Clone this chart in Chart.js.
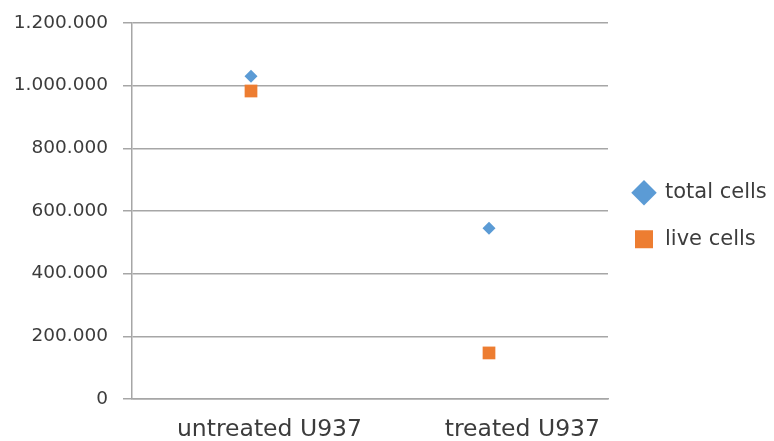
<!DOCTYPE html>
<html>
<head>
<meta charset="utf-8">
<script src="https://cdn.jsdelivr.net/npm/chart.js@4"></script>
<style>
  html, body { margin: 0; padding: 0; background: #ffffff; }
  #wrap { width: 774px; height: 441px; }
</style>
</head>
<body>
<div id="wrap"><canvas id="c" width="774" height="441"></canvas></div>
<script>
const categories = ['untreated U937', 'treated U937'];
const seriesNames = ['total cells', 'live cells'];
const totalCells = [1030000, 545000];
const liveCells = [983000, 147000];
const yMin = 0, yMax = 1200000, yStep = 200000;

function fmt(v) {
  return String(Math.round(v)).replace(/\B(?=(\d{3})+(?!\d))/g, '.');
}

const FONT = '"DejaVu Sans", Verdana, sans-serif';
const GRID = '#a6a6a6';
const TEXT = '#3c3c3c';

new Chart(document.getElementById('c'), {
  type: 'line',
  data: {
    labels: categories,
    datasets: [
      {
        label: seriesNames[0],
        data: totalCells,
        showLine: false,
        pointStyle: 'rectRot',
        pointRadius: 6.5,
        pointHoverRadius: 6.5,
        backgroundColor: '#5B9BD5',
        borderColor: '#5B9BD5',
        borderWidth: 0
      },
      {
        label: seriesNames[1],
        data: liveCells,
        showLine: false,
        pointStyle: 'rect',
        pointRadius: 9,
        pointHoverRadius: 9,
        backgroundColor: '#ED7D31',
        borderColor: '#ED7D31',
        borderWidth: 0
      }
    ]
  },
  options: {
    responsive: false,
    animation: false,
    layout: { padding: { left: 0, top: 23, right: 0, bottom: 0 } },
    plugins: {
      tooltip: { enabled: false },
      legend: {
        position: 'right',
        align: 'center',
        fullSize: false,
        maxWidth: 166,
        title: { display: true, text: '', font: { size: 1, lineHeight: 1 }, padding: 4.5 },
        labels: {
          usePointStyle: true,
          boxHeight: 18,
          padding: 25.5,
          color: TEXT,
          font: { family: FONT, size: 21, lineHeight: 0.93 }
        }
      }
    },
    scales: {
      x: {
        offset: true,
        afterFit: (s) => { s.height = 42; },
        grid: { display: false, drawTicks: false },
        border: { display: true, color: GRID, width: 1.5 },
        ticks: {
          color: TEXT,
          font: { family: FONT, size: 23.5 },
          padding: 17,
          align: 'end',
          labelOffset: 111,
          maxRotation: 0
        }
      },
      y: {
        min: yMin,
        max: yMax,
        afterFit: (s) => { s.width = 132; },
        grid: { color: GRID, lineWidth: 1.5, tickLength: 9, drawTicks: true },
        border: { display: true, color: GRID, width: 1.5 },
        ticks: {
          stepSize: yStep,
          color: TEXT,
          font: { family: FONT, size: 18.5, lineHeight: 0.4 },
          padding: 15,
          callback: (v) => fmt(v)
        }
      }
    }
  }
});
</script>
</body>
</html>
